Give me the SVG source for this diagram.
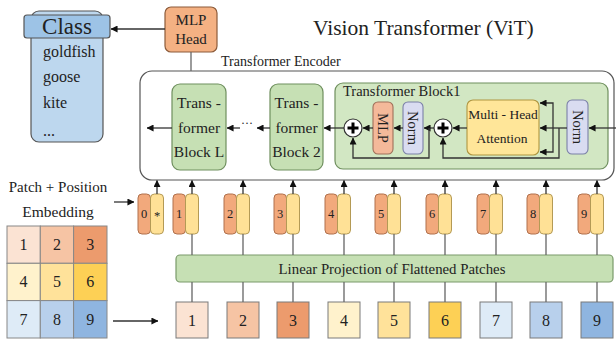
<svg xmlns="http://www.w3.org/2000/svg" width="616" height="340" viewBox="0 0 616 340" font-family="'Liberation Serif', 'DejaVu Serif', serif">
  <defs>
    <marker id="arr" viewBox="0 0 8 8" refX="7.5" refY="4" markerWidth="7" markerHeight="7" markerUnits="userSpaceOnUse" orient="auto">
      <path d="M0,0 L8,4 L0,8 Z" fill="#111"/>
    </marker>
  </defs>
  <style>
    text { font-family: 'Liberation Serif', 'DejaVu Serif', serif; fill: #222; }
    .c { text-anchor: middle; }
    .ln { stroke: #333; stroke-width: 1.3; fill: none; }
    .lg { stroke: #666; stroke-width: 1.3; fill: none; }
    .a { marker-end: url(#arr); }
    .blk { fill: #c6e0b4; stroke: #6f8f5e; stroke-width: 1.2; }
    .org { fill: #f2a97c; stroke: #b0704c; stroke-width: 1; }
    .yel { fill: #ffe196; stroke: #b49a55; stroke-width: 1; }
    .pt { stroke: #7a7a7a; stroke-width: 1; }
    .grid { stroke: #888; stroke-width: 1; }
    .norm { fill: #d9dcf1; stroke: #7b80a8; stroke-width: 1.1; }
    .plus { fill: #fff; stroke: #333; stroke-width: 1.2; }
    .pbar { stroke: #000; stroke-width: 3; }
  </style>

  <!-- title -->
  <text x="313" y="35" font-size="21.5">Vision Transformer (ViT)</text>

  <!-- class list -->
  <g id="class">
    <rect x="31" y="11" width="72" height="131" rx="8" fill="#bdd7ee" stroke="#555" stroke-width="1.2"/>
    <rect x="24" y="15" width="86" height="23" rx="3" fill="#9dc3e6" stroke="#555" stroke-width="1.2"/>
    <text x="67" y="34" font-size="23" class="c">Class</text>
    <text x="43" y="57" font-size="16">goldfish</text>
    <text x="43" y="82" font-size="16">goose</text>
    <text x="43" y="108" font-size="16">kite</text>
    <text x="43" y="136" font-size="16">...</text>
  </g>

  <!-- MLP head -->
  <g id="mlp-head">
    <rect x="165" y="7" width="52" height="45" rx="6" fill="#f4b183" stroke="#8c5b3a" stroke-width="1.2"/>
    <text x="191" y="25" font-size="15" class="c">MLP</text>
    <text x="191" y="44" font-size="15" class="c">Head</text>
  </g>

  <!-- encoder frame -->
  <g id="encoder">
    <rect x="140" y="71" width="474" height="109" rx="12" fill="#fff" stroke="#555" stroke-width="1.2"/>
    <text x="221" y="66" font-size="14">Transformer Encoder</text>
  </g>

  <g id="block-l">
    <rect x="172" y="84" width="54" height="86" rx="8" class="blk"/>
    <text x="199" y="108" font-size="15.5" class="c">Trans -</text>
    <text x="199" y="133" font-size="15.5" class="c">former</text>
    <text x="199" y="157" font-size="15.5" class="c">Block L</text>
  </g>

  <g id="block-2">
    <rect x="270" y="84" width="53" height="86" rx="8" class="blk"/>
    <text x="296.5" y="108" font-size="15.5" class="c">Trans -</text>
    <text x="296.5" y="133" font-size="15.5" class="c">former</text>
    <text x="296.5" y="157" font-size="15.5" class="c">Block 2</text>
  </g>

  <g id="block-1">
    <rect x="335" y="83" width="273" height="86" rx="8" fill="#d2e7c3" stroke="#6f8f5e" stroke-width="1.2"/>
    <text x="343" y="96" font-size="14.5">Transformer Block1</text>
  </g>

  <g id="mlp">
    <rect x="373" y="102" width="20" height="52" rx="5" fill="#f4b99a" stroke="#a0705a" stroke-width="1.1"/>
    <text x="383" y="128" font-size="14.5" class="c" dominant-baseline="central" transform="rotate(90 383 128)">MLP</text>
  </g>

  <g id="norm-1">
    <rect x="403" y="102" width="20" height="52" rx="5" class="norm"/>
    <text x="413" y="128" font-size="14.5" class="c" dominant-baseline="central" transform="rotate(90 413 128)">Norm</text>
  </g>

  <g id="attention">
    <rect x="467" y="100" width="72" height="55" rx="6" fill="#ffe699" stroke="#b09640" stroke-width="1.1"/>
    <text x="503" y="119" font-size="13.5" class="c">Multi - Head</text>
    <text x="502" y="143" font-size="13.5" class="c">Attention</text>
  </g>

  <g id="norm-2">
    <rect x="567" y="100" width="21" height="54" rx="5" class="norm"/>
    <text x="577.5" y="127" font-size="14.5" class="c" dominant-baseline="central" transform="rotate(90 577.5 127)">Norm</text>
  </g>

  <g id="add-1">
    <circle cx="353" cy="128" r="9" class="plus"/>
    <path d="M347.5,128 H358.5 M353,122.5 V133.5" class="pbar"/>
  </g>
  <g id="add-2">
    <circle cx="443" cy="128" r="9" class="plus"/>
    <path d="M437.5,128 H448.5 M443,122.5 V133.5" class="pbar"/>
  </g>

  <!-- linear projection -->
  <g id="projection">
    <rect x="176" y="255" width="437" height="27" rx="4" fill="#c6e0b4" stroke="#7a9a6a" stroke-width="1.2"/>
    <text x="392" y="274" font-size="14.8" class="c">Linear Projection of Flattened Patches</text>
  </g>

  <!-- embedding label and patch grid -->
  <g id="embedding-label">
    <text x="58" y="192" font-size="15" class="c">Patch + Position</text>
    <text x="58" y="217" font-size="15.5" class="c">Embedding</text>
  </g>

  <g id="image-grid" font-size="16">
    <rect x="7" y="226" width="33.3" height="37.3" fill="#fbe3d3" class="grid"/>
    <rect x="40.3" y="226" width="33.3" height="37.3" fill="#f6c4a4" class="grid"/>
    <rect x="73.6" y="226" width="33.4" height="37.3" fill="#ec9b6d" class="grid"/>
    <rect x="7" y="263.3" width="33.3" height="37.3" fill="#fff2cc" class="grid"/>
    <rect x="40.3" y="263.3" width="33.3" height="37.3" fill="#ffe29a" class="grid"/>
    <rect x="73.6" y="263.3" width="33.4" height="37.3" fill="#fdd055" class="grid"/>
    <rect x="7" y="300.6" width="33.3" height="37.4" fill="#deebf7" class="grid"/>
    <rect x="40.3" y="300.6" width="33.3" height="37.4" fill="#b8d0ec" class="grid"/>
    <rect x="73.6" y="300.6" width="33.4" height="37.4" fill="#8fb5e0" class="grid"/>
    <text x="23.6" y="250" class="c">1</text>
    <text x="57" y="250" class="c">2</text>
    <text x="90.3" y="250" class="c">3</text>
    <text x="23.6" y="287" class="c">4</text>
    <text x="57" y="287" class="c">5</text>
    <text x="90.3" y="287" class="c">6</text>
    <text x="23.6" y="325" class="c">7</text>
    <text x="57" y="325" class="c">8</text>
    <text x="90.3" y="325" class="c">9</text>
  </g>

  <!-- embedded tokens: position (orange) + patch (yellow) -->
  <g id="token-0" font-size="12.5">
    <rect x="138" y="194" width="12.5" height="40" rx="4" class="org"/>
    <rect x="150.5" y="194" width="13" height="40" rx="4" class="yel"/>
    <text x="144.2" y="218" class="c">0</text>
    <text x="157" y="220" class="c">*</text>
  </g>
  <g id="token-1" font-size="12.5"><rect x="173" y="194" width="12.5" height="40" rx="4" class="org"/><rect x="185.5" y="194" width="13" height="40" rx="4" class="yel"/><text x="179.2" y="218" class="c">1</text></g>
  <g id="token-2" font-size="12.5"><rect x="224" y="194" width="12.5" height="40" rx="4" class="org"/><rect x="236.5" y="194" width="13" height="40" rx="4" class="yel"/><text x="230.2" y="218" class="c">2</text></g>
  <g id="token-3" font-size="12.5"><rect x="274" y="194" width="12.5" height="40" rx="4" class="org"/><rect x="286.5" y="194" width="13" height="40" rx="4" class="yel"/><text x="280.2" y="218" class="c">3</text></g>
  <g id="token-4" font-size="12.5"><rect x="325" y="194" width="12.5" height="40" rx="4" class="org"/><rect x="337.5" y="194" width="13" height="40" rx="4" class="yel"/><text x="331.2" y="218" class="c">4</text></g>
  <g id="token-5" font-size="12.5"><rect x="375" y="194" width="12.5" height="40" rx="4" class="org"/><rect x="387.5" y="194" width="13" height="40" rx="4" class="yel"/><text x="381.2" y="218" class="c">5</text></g>
  <g id="token-6" font-size="12.5"><rect x="426" y="194" width="12.5" height="40" rx="4" class="org"/><rect x="438.5" y="194" width="13" height="40" rx="4" class="yel"/><text x="432.2" y="218" class="c">6</text></g>
  <g id="token-7" font-size="12.5"><rect x="477" y="194" width="12.5" height="40" rx="4" class="org"/><rect x="489.5" y="194" width="13" height="40" rx="4" class="yel"/><text x="483.2" y="218" class="c">7</text></g>
  <g id="token-8" font-size="12.5"><rect x="527" y="194" width="12.5" height="40" rx="4" class="org"/><rect x="539.5" y="194" width="13" height="40" rx="4" class="yel"/><text x="533.2" y="218" class="c">8</text></g>
  <g id="token-9" font-size="12.5"><rect x="578" y="194" width="12.5" height="40" rx="4" class="org"/><rect x="590.5" y="194" width="13" height="40" rx="4" class="yel"/><text x="584.2" y="218" class="c">9</text></g>

  <!-- flattened patches -->
  <g id="patches" font-size="16">
    <rect x="176" y="302" width="32" height="36" fill="#fbe3d3" class="pt"/><text x="192" y="326" class="c">1</text>
    <rect x="227" y="302" width="32" height="36" fill="#f6c4a4" class="pt"/><text x="243" y="326" class="c">2</text>
    <rect x="277" y="302" width="32" height="36" fill="#ec9b6d" class="pt"/><text x="293" y="326" class="c">3</text>
    <rect x="328" y="302" width="32" height="36" fill="#fff2cc" class="pt"/><text x="344" y="326" class="c">4</text>
    <rect x="378" y="302" width="32" height="36" fill="#ffe29a" class="pt"/><text x="394" y="326" class="c">5</text>
    <rect x="429" y="302" width="32" height="36" fill="#fdd055" class="pt"/><text x="445" y="326" class="c">6</text>
    <rect x="480" y="302" width="32" height="36" fill="#deebf7" class="pt"/><text x="496" y="326" class="c">7</text>
    <rect x="530" y="302" width="32" height="36" fill="#b8d0ec" class="pt"/><text x="546" y="326" class="c">8</text>
    <rect x="581" y="302" width="32" height="36" fill="#8fb5e0" class="pt"/><text x="597" y="326" class="c">9</text>
  </g>

  <!-- connectors -->
  <g id="connectors">
    <!-- head path -->
    <path d="M191,71 V52" class="lg"/>
    <path d="M165,29 H111" class="ln a"/>

    <!-- block chain -->
    <path d="M616,128 H589" class="ln a"/>
    <path d="M567,128 H540" class="ln a"/>
    <path d="M553,128 V103 H540" class="ln a"/>
    <path d="M553,128 V152 H540" class="ln a"/>
    <path d="M559,128 V158 H443 V138" class="ln a"/>
    <path d="M467,128 H453" class="ln a"/>
    <path d="M434,128 H424" class="ln a"/>
    <path d="M429,128 V158 H353 V138" class="ln a"/>
    <path d="M403,128 H394" class="ln a"/>
    <path d="M373,128 H363" class="ln a"/>
    <path d="M344,128 H324" class="ln a"/>
    <path d="M270,128 H257" class="ln a"/>
    <text x="247" y="127" font-size="12" class="c">···</text>
    <path d="M240,128 H227" class="ln a"/>
    <path d="M172,128 H147" class="ln a"/>

    <!-- embedding inputs -->
    <path d="M114,202 H134" class="ln a"/>
    <path d="M113,321 H158" class="ln a"/>

    <!-- tokens into encoder -->
    <path d="M157,194 V180.5" class="ln a"/>
    <path d="M192,194 V180.5" class="ln a"/>
    <path d="M243,194 V180.5" class="ln a"/>
    <path d="M293,194 V180.5" class="ln a"/>
    <path d="M344,194 V180.5" class="ln a"/>
    <path d="M394,194 V180.5" class="ln a"/>
    <path d="M445,194 V180.5" class="ln a"/>
    <path d="M496,194 V180.5" class="ln a"/>
    <path d="M546,194 V180.5" class="ln a"/>
    <path d="M597,194 V180.5" class="ln a"/>

    <!-- tokens to projection -->
    <path d="M192,234 V255 M243,234 V255 M293,234 V255 M344,234 V255 M394,234 V255 M445,234 V255 M496,234 V255 M546,234 V255 M597,234 V255" class="lg"/>
    <!-- projection to patches -->
    <path d="M192,282 V302 M243,282 V302 M293,282 V302 M344,282 V302 M394,282 V302 M445,282 V302 M496,282 V302 M546,282 V302 M597,282 V302" class="lg"/>
  </g>
</svg>
